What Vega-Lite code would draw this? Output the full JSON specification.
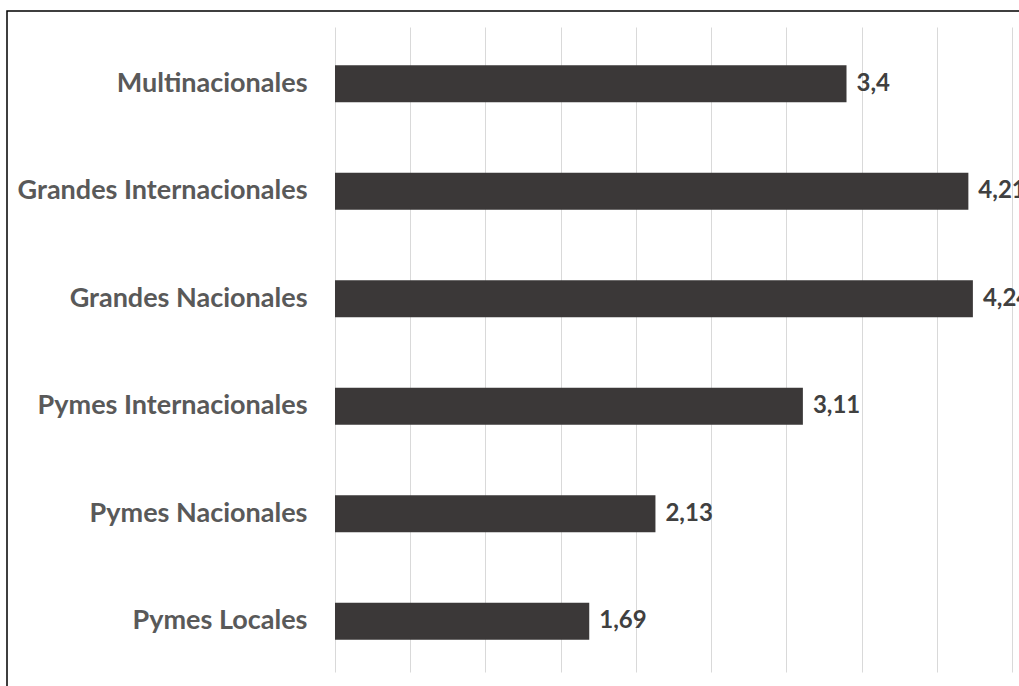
{
  "$schema": "https://vega.github.io/schema/vega-lite/v6.json",
  "autosize": "none",
  "padding": {"left": 7, "top": 11, "right": 0, "bottom": 0},
  "width": 1020,
  "height": 680,
  "background": "white",
  "config": {
    "view": {"stroke": "black", "strokeWidth": 1.5},
    "locale": {"number": {"decimal": ",", "thousands": ".", "grouping": [3], "currency": ["", "€"]}},
    "font": "Lato"
  },
  "data": {
    "values": [
      {"categoria": "Multinacionales", "valor": 3.4},
      {"categoria": "Grandes Internacionales", "valor": 4.21},
      {"categoria": "Grandes Nacionales", "valor": 4.24},
      {"categoria": "Pymes Internacionales", "valor": 3.11},
      {"categoria": "Pymes Nacionales", "valor": 2.13},
      {"categoria": "Pymes Locales", "valor": 1.69}
    ]
  },
  "encoding": {
    "y": {
      "field": "categoria",
      "type": "nominal",
      "sort": null,
      "scale": {"range": [19, 664], "paddingInner": 0.656, "paddingOuter": 0.328},
      "axis": {
        "title": null,
        "domain": false,
        "ticks": false,
        "offset": -328,
        "labelPadding": 28,
        "labelLimit": 0,
        "labelFont": "Lato",
        "labelFontWeight": "bold",
        "labelFontSize": 27,
        "labelColor": "#595959",
        "grid": false
      }
    },
    "x": {
      "field": "valor",
      "type": "quantitative",
      "scale": {"domain": [-2.1802, 4.5997], "nice": false, "zero": false},
      "axis": {
        "title": null,
        "labels": false,
        "ticks": false,
        "domain": false,
        "values": [0, 0.5, 1, 1.5, 2, 2.5, 3, 3.5, 4, 4.5],
        "grid": true,
        "gridColor": "#d9d9d9",
        "gridWidth": 1
      }
    }
  },
  "layer": [
    {
      "mark": {"type": "bar", "color": "#3b3838"}
    },
    {
      "mark": {"type": "text", "align": "left", "baseline": "middle", "dx": 10, "fontSize": 24, "fontWeight": "bold", "color": "#404040", "font": "Lato"},
      "encoding": {
        "text": {"field": "valor", "type": "quantitative", "format": ".2~f"}
      }
    }
  ]
}
